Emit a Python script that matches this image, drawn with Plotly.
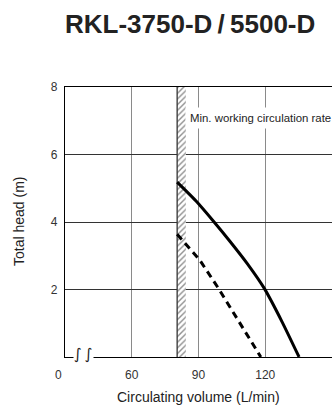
import plotly.graph_objects as go

# x axis is broken between 0 and 60 L/min
tick_flows = [60, 90, 120, 150]
tick_text = ["60", "90", "120", "150"]
head_ticks = [2, 4, 6, 8]

# RKL-3750-D (solid)
solid_flow = [80.4, 88.9, 97.0, 104.1, 112.0, 119.5, 127.5, 135.2]
solid_head = [5.18, 4.62, 4.0, 3.43, 2.76, 2.04, 1.05, 0.0]

# RKL-5500-D (dashed)
dash_flow = [80.4, 90.6, 98.9, 108.5, 118.0]
dash_head = [3.64, 2.87, 2.04, 1.03, 0.0]

min_rate_lo, min_rate_hi = 80.4, 84.3
head_max = 8


def xu(v):
    # map flow to the broken-axis coordinate
    return 0 if v == 0 else 1 + (v - 60) / 30


FONT = "Liberation Sans, Arial, sans-serif"

fig = go.Figure()

# hatched band: min. working circulation rate
fig.add_trace(go.Scatter(
    x=[xu(min_rate_lo), xu(min_rate_hi), xu(min_rate_hi), xu(min_rate_lo)],
    y=[0, 0, head_max, head_max], fill="toself", mode="lines",
    line=dict(width=0), fillcolor="white",
    fillpattern=dict(shape="/", size=4, solidity=0.35, fgcolor="#222", bgcolor="white"),
    hoverinfo="skip", showlegend=False))
fig.add_trace(go.Scatter(
    x=[xu(min_rate_lo), xu(min_rate_lo)], y=[0, head_max], mode="lines",
    line=dict(color="#333", width=1.3), hoverinfo="skip", showlegend=False))

fig.add_trace(go.Scatter(
    x=[xu(v) for v in solid_flow], y=solid_head, mode="lines",
    line=dict(color="black", width=3, shape="spline", smoothing=0.6), showlegend=False))
fig.add_trace(go.Scatter(
    x=[xu(v) for v in dash_flow], y=dash_head, mode="lines",
    line=dict(color="black", width=3, dash="7px,5px"), showlegend=False))

fig.update_layout(
    width=332, height=408,
    margin=dict(l=65, r=0, t=87, b=51),
    paper_bgcolor="white", plot_bgcolor="white",
    font=dict(family=FONT, color="#222"),
    xaxis=dict(range=[0, 4], tickvals=[xu(v) for v in tick_flows], ticktext=tick_text,
               showgrid=True, gridcolor="#8a8a8a", gridwidth=1, zeroline=False,
               showline=True, linecolor="black", linewidth=1.3, mirror=True,
               ticks="", ticklabelstandoff=6, tickfont=dict(size=12, color="#333")),
    yaxis=dict(range=[0, head_max], tickvals=head_ticks,
               showgrid=True, gridcolor="#333", gridwidth=1, zeroline=False,
               showline=True, linecolor="black", linewidth=1.3,
               ticks="", ticklabelstandoff=4, tickfont=dict(size=12, color="#333")),
    annotations=[
        dict(text="<b>RKL-3750-D\u2009/\u20095500-D</b>", xref="paper", yref="paper",
             x=0.468, y=1, yshift=63, xanchor="center", yanchor="middle",
             showarrow=False, font=dict(size=26, color="#222", family=FONT)),
        dict(text="Min. working circulation rate", xref="x", yref="y",
             x=xu(min_rate_hi), y=7.08, xshift=-1, xanchor="left", yanchor="middle",
             showarrow=False, bgcolor="white", borderpad=4,
             font=dict(size=11.4, color="#222", family=FONT)),
        dict(text="Total head (m)", xref="paper", yref="paper", x=0, y=0.5,
             xshift=-46, textangle=-90, xanchor="center", yanchor="middle",
             showarrow=False, font=dict(size=14, color="#222")),
        dict(text="Circulating volume (L/min)", xref="paper", yref="paper", x=0.5, y=0,
             yshift=-40, xanchor="center", yanchor="middle",
             showarrow=False, font=dict(size=14, color="#222")),
        dict(text="0", xref="x", yref="paper", x=0, y=0, xshift=-6.5, yshift=-18,
             xanchor="center", yanchor="middle", showarrow=False,
             font=dict(size=12, color="#333")),
        # axis break mark
        dict(text="\u222b\u2009\u222b", xref="x", yref="y", x=0.28, y=0, yshift=3,
             xanchor="center", yanchor="middle", showarrow=False,
             bgcolor="white", borderpad=0,
             font=dict(size=15, color="#222", family="DejaVu Sans")),
    ],
)

fig.write_html("out.html", config={"displayModeBar": False},
               post_script="document.body.style.margin='0';")
